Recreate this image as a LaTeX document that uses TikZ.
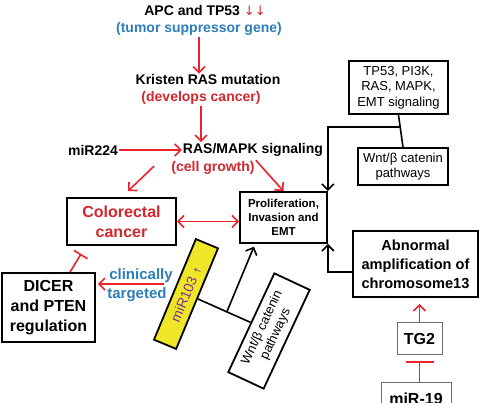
\documentclass[tikz,border=0pt]{standalone}
\usepackage{fontspec}
\setmainfont{Liberation Sans}
\newfontfamily\symfont{DejaVu Sans}
\usetikzlibrary{arrows.meta,calc}

\definecolor{redarr}{RGB}{235,35,45}
\definecolor{redtxt}{RGB}{210,40,45}
\definecolor{bluetxt}{RGB}{45,125,185}
\definecolor{yelfill}{RGB}{240,230,40}
\definecolor{purptxt}{RGB}{120,50,150}
\definecolor{graybox}{RGB}{110,110,110}

\newcommand{\fsz}[2]{\fontsize{#1}{#2}\selectfont}

\tikzset{
  >={Straight Barb[length=6pt,width=12pt]},
  arr/.style={draw=redarr, line width=1.6pt, ->},
  blk/.style={draw=black, line width=1.6pt, ->},
  lnk/.style={draw=black, line width=1.6pt},
  tbar/.style={draw=redarr, line width=1.6pt, -{Bar[width=16pt]}},
  bx/.style={draw, line width=1.8pt, align=center, inner sep=0pt},
  lbl/.style={inner sep=1pt, font=\bfseries\fsz{14}{16}},
}

\begin{document}
\begin{tikzpicture}[x=1pt,y=-1pt]
	\useasboundingbox (0,0) rectangle (483,403);
	%top chain
	\node[lbl] (apc) at (205,11) {APC and TP53 {\symfont\mdseries\color{redtxt}\fsz{13}{13}↓↓}};
	\node[lbl, text=bluetxt] (tsg) at (199,29) {(tumor suppressor gene)};
	\node[lbl] (kras) at (208,80) {Kristen RAS mutation};
	\node[lbl, text=redtxt] (dev) at (201,98) {(develops cancer)};
	\node[lbl] (mir224) at (93,150) {miR224};
	\node[lbl] (ras) at (253,150) {RAS/MAPK signaling};
	\node[lbl, text=redtxt] (cg) at (213,168) {(cell growth)};
	%boxes
	\node[bx, minimum width=109pt, minimum height=47pt, text=redtxt, font=\bfseries\fsz{16}{20}] (crc) at (121.5,221.5) {Colorectal\\cancer};
	\node[bx, minimum width=87pt, minimum height=51pt, font=\bfseries\fsz{11.5}{14}] (prolif) at (283.5,217.5) {Proliferation,\\Invasion and\\EMT};
	\node[bx, minimum width=99pt, minimum height=53pt, font=\fsz{13}{15.5}] (tp) at (398.5,87.5) {TP53, PI3K,\\RAS, MAPK,\\EMT signaling};
	\node[bx, minimum width=90pt, minimum height=37pt, font=\fsz{13}{15}] (wnt) at (403,166.5) {Wnt/β catenin\\pathways};
	\node[bx, minimum width=125pt, minimum height=66pt, font=\bfseries\fsz{14.6}{19}] (abn) at (415.5,264) {Abnormal\\amplification of\\chromosome13};
	\node[bx, minimum width=93pt, minimum height=69pt, font=\bfseries\fsz{16}{20}] (dicer) at (48.5,307.5) {DICER\\and PTEN\\regulation};
	\node[bx, draw=graybox, line width=1pt, minimum width=45pt, minimum height=32pt, font=\bfseries\fsz{16}{18}] (tg2) at (419.5,339) {TG2};
	\node[bx, draw=graybox, line width=1pt, minimum width=70pt, minimum height=32pt, font=\bfseries\fsz{16}{18}] (m19) at (416,399) {miR-19};
	%tilted boxes
	\node[bx, fill=yelfill, rotate=67.4, minimum width=109pt, minimum height=24pt, text=purptxt, font=\fsz{14}{16}] (ymir) at (186,294) {miR103 {\symfont\fsz{9}{9}↑}};
	\node[bx, rotate=65, minimum width=109pt, minimum height=39pt, font=\fsz{13}{15}] (wntr) at (269,331) {Wnt/β catenin\\pathways};
	%red arrows
	\draw[arr] (tsg.south) -- (tsg.south |- kras.north);
	\draw[arr] (dev.south) -- (dev.south |- ras.north);
	\draw[arr] (mir224.east) -- (ras.west);
	\draw[arr] ($(cg.west)+(-16,-2)$) -- ($(crc.north)+(6.5,-6)$);
	\draw[arr] (cg.north east) -- (prolif.north);
	\draw[arr, <->] (crc.east) -- (crc.east -| prolif.west);
	\draw[arr, shorten >=2pt] ([xshift=-10pt,yshift=5pt]ymir.north) coordinate (ct) -- (ct -| dicer.east);
	\node[lbl, text=bluetxt, font=\bfseries\fsz{15}{17}] (clin) at (141,276) {clinically};
	\node[lbl, text=bluetxt, font=\bfseries\fsz{15}{17}] (targ) at (137,295) {targeted};
	\draw[tbar] ([xshift=21.5pt]dicer.north) -- ($(crc.south west)+(15,8)$);
	\draw[arr, shorten >=6pt] (tg2.north) -- (tg2.north |- abn.south);
	\draw[tbar, -{Bar[width=28pt]}, shorten >=6pt] (tg2.south |- m19.north) -- (tg2.south);
	%black links
	\draw[lnk] (tp.south) -- (wnt.north);
	\draw[blk] ($(tp.south)!0.38!(wnt.north)$) -| (prolif.north east);
	\draw[blk] ([yshift=-8pt]abn.west) -| (prolif.south east);
	\draw[lnk] (ymir.south) -- (wntr.north);
	\draw[blk, shorten >=3pt] ($(ymir.south)!0.55!(wntr.north)$) -- ($(prolif.south west)!0.18!(prolif.south east)$);
\end{tikzpicture}
\end{document}
